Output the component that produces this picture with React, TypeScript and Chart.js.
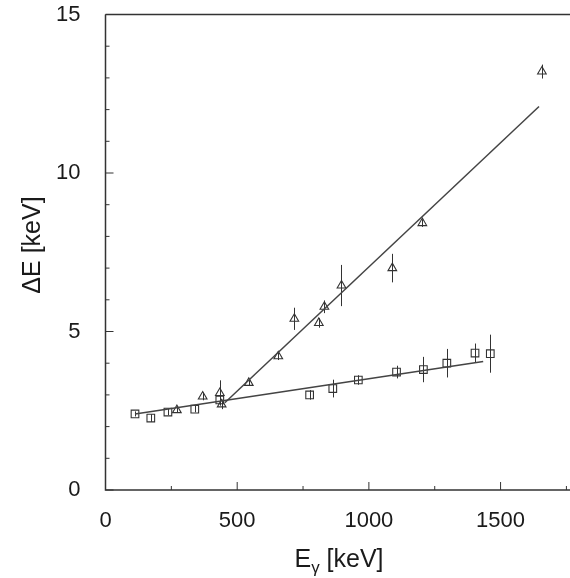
import React, { useEffect, useRef } from "react";
import { Chart, registerables } from "chart.js";

Chart.register(...registerables);

// Squares (E_gamma [keV], ΔE [keV], error)
const sqX = [112, 172, 237, 339, 434, 775, 863, 960, 1105, 1207, 1296, 1403, 1461];
const sqY = [2.40, 2.27, 2.46, 2.55, 2.84, 3.00, 3.20, 3.47, 3.72, 3.80, 4.00, 4.32, 4.30];
const sqErr = [0.08, 0.12, 0.1, 0.1, 0.15, 0.15, 0.28, 0.15, 0.2, 0.4, 0.45, 0.3, 0.6];

// Triangles
const triX = [271, 369, 434, 441, 544, 656, 717, 810, 831, 896, 1089, 1203, 1657];
const triY = [2.52, 2.95, 3.06, 2.70, 3.38, 4.22, 5.40, 5.27, 5.78, 6.45, 7.0, 8.42, 13.2];
const triErr = [0.08, 0.12, 0.4, 0.15, 0.1, 0.12, 0.35, 0.15, 0.2, 0.65, 0.45, 0.12, 0.22];

// Fit lines
const fitSqX = [112, 1434];
const fitSqY = [2.40, 4.05];
const fitTriX = [453, 1646];
const fitTriY = [2.75, 12.1];

// Tick values
const xTickValues = [0, 250, 500, 750, 1000, 1250, 1500, 1750];
const xLabelValues = [0, 500, 1000, 1500];
const yTickValues = [0, 1, 2, 3, 4, 5, 6, 7, 8, 9, 10, 11, 12, 13, 14, 15];
const yLabelValues = [0, 5, 10, 15];

const FONT = "'Liberation Sans', Arial, sans-serif";
const INK = "#1a1a1a";

const pts = (xs: number[], ys: number[]) => xs.map((x, i) => ({ x, y: ys[i] }));

const errorBars = {
  id: "errorBars",
  beforeDatasetsDraw(chart: any) {
    const ctx = chart.ctx;
    const xs = chart.scales.x;
    const ys = chart.scales.y;
    ctx.save();
    ctx.strokeStyle = "#333";
    ctx.lineWidth = 1;
    chart.data.datasets.forEach((ds: any) => {
      if (!ds.errors) return;
      ds.data.forEach((p: any, i: number) => {
        const e = ds.errors[i];
        const px = Math.round(xs.getPixelForValue(p.x)) + 0.5;
        ctx.beginPath();
        ctx.moveTo(px, ys.getPixelForValue(p.y - e));
        ctx.lineTo(px, ys.getPixelForValue(p.y + e));
        ctx.stroke();
      });
    });
    ctx.restore();
  },
};

const frame = {
  id: "frame",
  afterDraw(chart: any) {
    const ctx = chart.ctx;
    const { left, right, top, bottom } = chart.chartArea;
    const xs = chart.scales.x;
    const ys = chart.scales.y;
    ctx.save();
    ctx.strokeStyle = "#333";
    ctx.lineWidth = 1.5;
    ctx.beginPath();
    ctx.moveTo(left, top);
    ctx.lineTo(left, bottom);
    ctx.lineTo(right, bottom);
    ctx.lineTo(right, top);
    ctx.lineTo(left, top);
    ctx.stroke();
    ctx.lineWidth = 1;
    xTickValues.forEach((v) => {
      const px = xs.getPixelForValue(v);
      const len = xLabelValues.includes(v) ? 8 : 4;
      ctx.beginPath();
      ctx.moveTo(px, bottom);
      ctx.lineTo(px, bottom - len);
      ctx.stroke();
    });
    yTickValues.forEach((v) => {
      const py = ys.getPixelForValue(v);
      const len = yLabelValues.includes(v) ? 8 : 4;
      ctx.beginPath();
      ctx.moveTo(left, py);
      ctx.lineTo(left + len, py);
      ctx.stroke();
    });
    // Axis titles
    ctx.fillStyle = INK;
    ctx.textBaseline = "alphabetic";
    const big = `25px ${FONT}`;
    const small = `17px ${FONT}`;
    ctx.font = big;
    const wE = ctx.measureText("E").width;
    const wRest = ctx.measureText(" [keV]").width;
    ctx.font = small;
    const wG = ctx.measureText("γ").width;
    const total = wE + wG + wRest;
    const cx = 339;
    const base = 567;
    const x0 = cx - total / 2;
    ctx.textAlign = "left";
    ctx.font = big;
    ctx.fillText("E", x0, base);
    ctx.font = small;
    ctx.fillText("γ", x0 + wE, base + 6);
    ctx.font = big;
    ctx.fillText(" [keV]", x0 + wE + wG, base);
    // y title
    ctx.translate(40, 245);
    ctx.rotate(-Math.PI / 2);
    ctx.textAlign = "center";
    ctx.font = big;
    ctx.fillText("ΔE [keV]", 0, 0);
    ctx.restore();
  },
};

export default function App() {
  const ref = useRef<HTMLCanvasElement | null>(null);
  useEffect(() => {
    if (!ref.current) return;
    const chart = new Chart(ref.current, {
      type: "scatter",
      data: {
        datasets: [
          {
            label: "fitTri",
            type: "line",
            data: pts(fitTriX, fitTriY),
            showLine: true,
            pointRadius: 0,
            borderColor: "#444",
            borderWidth: 1.5,
            fill: false,
          } as any,
          {
            label: "fitSq",
            type: "line",
            data: pts(fitSqX, fitSqY),
            showLine: true,
            pointRadius: 0,
            borderColor: "#444",
            borderWidth: 1.5,
            fill: false,
          } as any,
          {
            label: "squares",
            data: pts(sqX, sqY),
            pointStyle: "rect",
            pointRadius: 5.4,
            borderColor: "#333",
            backgroundColor: "rgba(0,0,0,0)",
            borderWidth: 1.1,
            errors: sqErr,
          } as any,
          {
            label: "triangles",
            data: pts(triX, triY),
            pointStyle: "triangle",
            pointRadius: 5,
            borderColor: "#333",
            backgroundColor: "rgba(0,0,0,0)",
            borderWidth: 1.1,
            errors: triErr,
          } as any,
        ],
      },
      options: {
        responsive: false,
        animation: false,
        devicePixelRatio: 1,
        layout: { padding: { top: 14.5, right: 27, left: 0, bottom: 0 } },
        plugins: { legend: { display: false }, tooltip: { enabled: false } },
        scales: {
          x: {
            type: "linear",
            min: 0,
            max: 1775,
            grid: { display: false },
            border: { display: false },
            afterBuildTicks: (s: any) => {
              s.ticks = xLabelValues.map((v) => ({ value: v }));
            },
            afterFit: (s: any) => {
              s.height = 88;
              s.paddingLeft = 0;
              s.paddingRight = 0;
            },
            ticks: {
              autoSkip: false,
              maxRotation: 0,
              padding: 10,
              color: INK,
              font: { family: FONT, size: 22 },
              callback: (v: any) => String(v),
            },
          },
          y: {
            type: "linear",
            min: 0,
            max: 15,
            grid: { display: false },
            border: { display: false },
            afterBuildTicks: (s: any) => {
              s.ticks = yLabelValues.map((v) => ({ value: v }));
            },
            afterFit: (s: any) => {
              s.width = 105.5;
              s.paddingTop = 0;
              s.paddingBottom = 0;
            },
            ticks: {
              autoSkip: false,
              padding: 17,
              color: INK,
              font: { family: FONT, size: 22 },
              callback: (v: any) => String(v),
            },
          },
        },
      },
      plugins: [errorBars, frame],
    });
    return () => chart.destroy();
  }, []);
  return (
    <div
      style={{
        position: "absolute",
        left: 0,
        top: 0,
        width: 570,
        height: 578,
        overflow: "hidden",
        background: "#fff",
      }}
    >
      <canvas ref={ref} width={600} height={578} style={{ display: "block" }} />
    </div>
  );
}
